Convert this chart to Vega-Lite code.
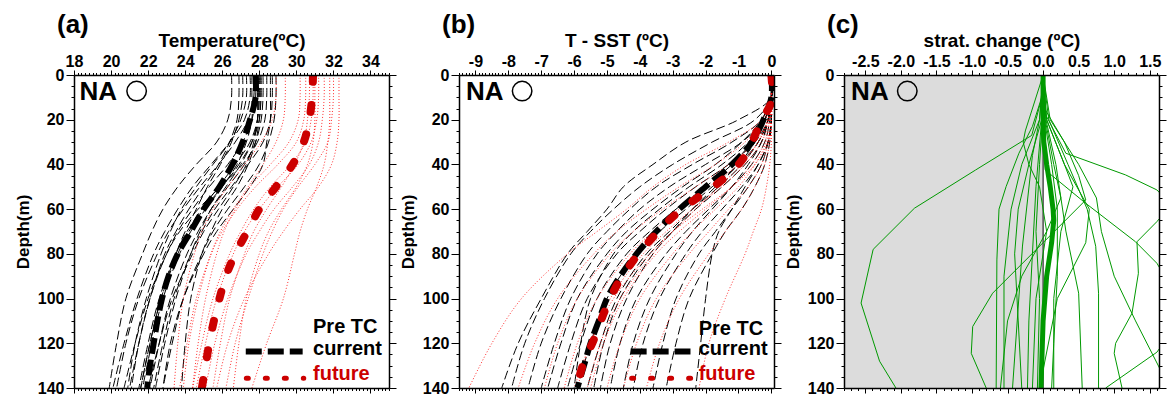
{
"$schema":"https://vega.github.io/schema/vega-lite/v6.json",
"background":"white",
"padding":{"left":14,"top":12,"right":8,"bottom":8},
"config":{
 "font":"Liberation Sans",
 "view":{"stroke":null},
 "axis":{"domain":true,"domainColor":"black","domainWidth":1.5,"grid":false,"tickColor":"black","tickWidth":1,"labelFont":"Liberation Sans","labelFontSize":16,"labelFontWeight":"bold","labelColor":"black","titleFont":"Liberation Sans","titleFontSize":17,"titleFontWeight":"bold","titleColor":"black","labelOverlap":false,"labelFlush":false,"labelBound":false},
 "axisTop":{"titleFontSize":19},
 "text":{"font":"Liberation Sans"},
 "title":{"font":"Liberation Sans","fontSize":26,"fontWeight":"bold","color":"black","anchor":"start","frame":"group","dx":-17,"offset":-7}
},
"datasets":{
"aC":[
{"i":1,"d":0,"v":27.8},{"i":1,"d":10,"v":27.8},{"i":1,"d":20,"v":27.6},{"i":1,"d":30,"v":27.1},{"i":1,"d":40,"v":26.3},{"i":1,"d":50,"v":25.3},{"i":1,"d":60,"v":24.4},{"i":1,"d":70,"v":23.6},{"i":1,"d":80,"v":23.0},{"i":1,"d":100,"v":22.0},{"i":1,"d":120,"v":21.3},{"i":1,"d":140,"v":20.7},
{"i":2,"d":0,"v":28.2},{"i":2,"d":10,"v":28.2},{"i":2,"d":20,"v":28.1},{"i":2,"d":30,"v":27.8},{"i":2,"d":40,"v":27.2},{"i":2,"d":50,"v":26.3},{"i":2,"d":60,"v":25.4},{"i":2,"d":70,"v":24.7},{"i":2,"d":80,"v":24.1},{"i":2,"d":100,"v":23.2},{"i":2,"d":120,"v":22.6},{"i":2,"d":140,"v":22.1},
{"i":3,"d":0,"v":27.5},{"i":3,"d":10,"v":27.5},{"i":3,"d":20,"v":27.2},{"i":3,"d":30,"v":26.4},{"i":3,"d":40,"v":25.4},{"i":3,"d":50,"v":24.4},{"i":3,"d":60,"v":23.6},{"i":3,"d":70,"v":22.9},{"i":3,"d":80,"v":22.3},{"i":3,"d":100,"v":21.4},{"i":3,"d":120,"v":20.7},{"i":3,"d":140,"v":20.1},
{"i":4,"d":0,"v":28.9},{"i":4,"d":10,"v":28.9},{"i":4,"d":20,"v":28.8},{"i":4,"d":30,"v":28.5},{"i":4,"d":40,"v":28.0},{"i":4,"d":50,"v":27.2},{"i":4,"d":60,"v":26.3},{"i":4,"d":70,"v":25.5},{"i":4,"d":80,"v":24.9},{"i":4,"d":100,"v":23.9},{"i":4,"d":120,"v":23.3},{"i":4,"d":140,"v":22.8},
{"i":5,"d":0,"v":26.5},{"i":5,"d":10,"v":26.5},{"i":5,"d":20,"v":26.3},{"i":5,"d":30,"v":25.7},{"i":5,"d":40,"v":24.6},{"i":5,"d":50,"v":23.6},{"i":5,"d":60,"v":22.8},{"i":5,"d":70,"v":22.2},{"i":5,"d":80,"v":21.7},{"i":5,"d":100,"v":20.8},{"i":5,"d":120,"v":20.3},{"i":5,"d":140,"v":19.9},
{"i":6,"d":0,"v":27.9},{"i":6,"d":10,"v":27.9},{"i":6,"d":20,"v":27.9},{"i":6,"d":30,"v":27.6},{"i":6,"d":40,"v":27.0},{"i":6,"d":50,"v":26.2},{"i":6,"d":60,"v":25.4},{"i":6,"d":70,"v":24.8},{"i":6,"d":80,"v":24.3},{"i":6,"d":100,"v":23.5},{"i":6,"d":120,"v":22.9},{"i":6,"d":140,"v":22.4},
{"i":7,"d":0,"v":27.3},{"i":7,"d":10,"v":27.3},{"i":7,"d":20,"v":27.0},{"i":7,"d":30,"v":26.4},{"i":7,"d":40,"v":25.5},{"i":7,"d":50,"v":24.6},{"i":7,"d":60,"v":23.8},{"i":7,"d":70,"v":23.2},{"i":7,"d":80,"v":22.7},{"i":7,"d":100,"v":21.9},{"i":7,"d":120,"v":21.3},{"i":7,"d":140,"v":20.9},
{"i":8,"d":0,"v":28.0},{"i":8,"d":10,"v":28.0},{"i":8,"d":20,"v":27.9},{"i":8,"d":30,"v":27.5},{"i":8,"d":40,"v":26.7},{"i":8,"d":50,"v":25.8},{"i":8,"d":60,"v":24.9},{"i":8,"d":70,"v":24.1},{"i":8,"d":80,"v":23.5},{"i":8,"d":100,"v":22.6},{"i":8,"d":120,"v":22.0},{"i":8,"d":140,"v":21.5},
{"i":9,"d":0,"v":28.6},{"i":9,"d":10,"v":28.6},{"i":9,"d":20,"v":28.6},{"i":9,"d":30,"v":28.4},{"i":9,"d":40,"v":28.2},{"i":9,"d":50,"v":27.5},{"i":9,"d":60,"v":26.6},{"i":9,"d":70,"v":25.7},{"i":9,"d":80,"v":25.0},{"i":9,"d":100,"v":23.9},{"i":9,"d":120,"v":23.2},{"i":9,"d":140,"v":22.8},
{"i":10,"d":0,"v":27.7},{"i":10,"d":10,"v":27.7},{"i":10,"d":20,"v":27.4},{"i":10,"d":30,"v":26.7},{"i":10,"d":40,"v":25.8},{"i":10,"d":50,"v":24.8},{"i":10,"d":60,"v":23.9},{"i":10,"d":70,"v":23.1},{"i":10,"d":80,"v":22.5},{"i":10,"d":100,"v":21.5},{"i":10,"d":120,"v":20.8},{"i":10,"d":140,"v":20.3},
{"i":11,"d":0,"v":28.1},{"i":11,"d":10,"v":28.1},{"i":11,"d":20,"v":28.0},{"i":11,"d":30,"v":27.8},{"i":11,"d":40,"v":27.4},{"i":11,"d":50,"v":26.8},{"i":11,"d":60,"v":26.0},{"i":11,"d":70,"v":25.4},{"i":11,"d":80,"v":24.9},{"i":11,"d":100,"v":24.3},{"i":11,"d":120,"v":24.0},{"i":11,"d":140,"v":23.8},
{"i":12,"d":0,"v":26.9},{"i":12,"d":10,"v":26.9},{"i":12,"d":20,"v":26.8},{"i":12,"d":30,"v":26.4},{"i":12,"d":40,"v":25.8},{"i":12,"d":50,"v":25.0},{"i":12,"d":60,"v":24.2},{"i":12,"d":70,"v":23.5},{"i":12,"d":80,"v":22.9},{"i":12,"d":100,"v":22.1},{"i":12,"d":120,"v":21.5},{"i":12,"d":140,"v":21.0},
{"i":13,"d":0,"v":27.6},{"i":13,"d":10,"v":27.6},{"i":13,"d":20,"v":27.6},{"i":13,"d":30,"v":27.3},{"i":13,"d":40,"v":26.8},{"i":13,"d":50,"v":26.0},{"i":13,"d":60,"v":25.1},{"i":13,"d":70,"v":24.3},{"i":13,"d":80,"v":23.7},{"i":13,"d":100,"v":22.8},{"i":13,"d":120,"v":22.2},{"i":13,"d":140,"v":21.7},
{"i":14,"d":0,"v":28.4},{"i":14,"d":10,"v":28.4},{"i":14,"d":20,"v":28.3},{"i":14,"d":30,"v":27.9},{"i":14,"d":40,"v":27.1},{"i":14,"d":50,"v":25.9},{"i":14,"d":60,"v":24.7},{"i":14,"d":70,"v":23.7},{"i":14,"d":80,"v":23.0},{"i":14,"d":100,"v":22.1},{"i":14,"d":120,"v":21.5},{"i":14,"d":140,"v":21.1},
{"i":15,"d":0,"v":27.1},{"i":15,"d":10,"v":27.1},{"i":15,"d":20,"v":26.9},{"i":15,"d":30,"v":26.5},{"i":15,"d":40,"v":25.9},{"i":15,"d":50,"v":25.2},{"i":15,"d":60,"v":24.6},{"i":15,"d":70,"v":24.0},{"i":15,"d":80,"v":23.5},{"i":15,"d":100,"v":22.7},{"i":15,"d":120,"v":22.1},{"i":15,"d":140,"v":21.6},
{"i":16,"d":0,"v":28.7},{"i":16,"d":10,"v":28.7},{"i":16,"d":20,"v":28.6},{"i":16,"d":30,"v":28.2},{"i":16,"d":40,"v":27.4},{"i":16,"d":50,"v":26.5},{"i":16,"d":60,"v":25.6},{"i":16,"d":70,"v":24.9},{"i":16,"d":80,"v":24.3},{"i":16,"d":100,"v":23.4},{"i":16,"d":120,"v":22.8},{"i":16,"d":140,"v":22.3},
{"i":17,"d":0,"v":27.95},{"i":17,"d":10,"v":27.95},{"i":17,"d":20,"v":27.9},{"i":17,"d":30,"v":27.7},{"i":17,"d":40,"v":27.3},{"i":17,"d":50,"v":26.6},{"i":17,"d":60,"v":25.8},{"i":17,"d":70,"v":25.0},{"i":17,"d":80,"v":24.4},{"i":17,"d":100,"v":23.3},{"i":17,"d":120,"v":22.6},{"i":17,"d":140,"v":22.0},
{"i":18,"d":0,"v":28.05},{"i":18,"d":10,"v":28.05},{"i":18,"d":20,"v":28.0},{"i":18,"d":30,"v":27.6},{"i":18,"d":40,"v":26.9},{"i":18,"d":50,"v":26.0},{"i":18,"d":60,"v":25.0},{"i":18,"d":70,"v":24.2},{"i":18,"d":80,"v":23.6},{"i":18,"d":100,"v":22.7},{"i":18,"d":120,"v":22.1},{"i":18,"d":140,"v":21.6}
],
"aF":[
{"i":1,"d":0,"v":30.9},{"i":1,"d":10,"v":30.9},{"i":1,"d":20,"v":30.8},{"i":1,"d":30,"v":30.5},{"i":1,"d":40,"v":29.7},{"i":1,"d":50,"v":28.6},{"i":1,"d":60,"v":27.7},{"i":1,"d":70,"v":27.0},{"i":1,"d":80,"v":26.4},{"i":1,"d":100,"v":25.5},{"i":1,"d":120,"v":24.9},{"i":1,"d":140,"v":24.4},
{"i":2,"d":0,"v":31.5},{"i":2,"d":10,"v":31.5},{"i":2,"d":20,"v":31.4},{"i":2,"d":30,"v":31.2},{"i":2,"d":40,"v":30.7},{"i":2,"d":50,"v":29.8},{"i":2,"d":60,"v":28.8},{"i":2,"d":70,"v":28.0},{"i":2,"d":80,"v":27.3},{"i":2,"d":100,"v":26.3},{"i":2,"d":120,"v":25.6},{"i":2,"d":140,"v":25.1},
{"i":3,"d":0,"v":32.3},{"i":3,"d":10,"v":32.3},{"i":3,"d":20,"v":32.3},{"i":3,"d":30,"v":32.2},{"i":3,"d":40,"v":31.9},{"i":3,"d":50,"v":31.2},{"i":3,"d":60,"v":30.2},{"i":3,"d":70,"v":29.3},{"i":3,"d":80,"v":28.5},{"i":3,"d":100,"v":27.2},{"i":3,"d":120,"v":26.3},{"i":3,"d":140,"v":25.7},
{"i":4,"d":0,"v":28.9},{"i":4,"d":10,"v":28.9},{"i":4,"d":20,"v":28.7},{"i":4,"d":30,"v":28.1},{"i":4,"d":40,"v":27.2},{"i":4,"d":50,"v":26.3},{"i":4,"d":60,"v":25.5},{"i":4,"d":70,"v":24.9},{"i":4,"d":80,"v":24.5},{"i":4,"d":100,"v":23.9},{"i":4,"d":120,"v":23.6},{"i":4,"d":140,"v":23.4},
{"i":5,"d":0,"v":30.5},{"i":5,"d":10,"v":30.5},{"i":5,"d":20,"v":30.4},{"i":5,"d":30,"v":30.0},{"i":5,"d":40,"v":29.0},{"i":5,"d":50,"v":27.8},{"i":5,"d":60,"v":26.8},{"i":5,"d":70,"v":26.0},{"i":5,"d":80,"v":25.4},{"i":5,"d":100,"v":24.6},{"i":5,"d":120,"v":24.1},{"i":5,"d":140,"v":23.7},
{"i":6,"d":0,"v":31.8},{"i":6,"d":10,"v":31.8},{"i":6,"d":20,"v":31.8},{"i":6,"d":30,"v":31.7},{"i":6,"d":40,"v":31.5},{"i":6,"d":50,"v":31.1},{"i":6,"d":60,"v":30.6},{"i":6,"d":70,"v":30.2},{"i":6,"d":80,"v":29.9},{"i":6,"d":100,"v":29.3},{"i":6,"d":120,"v":28.4},{"i":6,"d":140,"v":27.6},
{"i":7,"d":0,"v":30.2},{"i":7,"d":10,"v":30.2},{"i":7,"d":20,"v":30.1},{"i":7,"d":30,"v":29.6},{"i":7,"d":40,"v":28.6},{"i":7,"d":50,"v":27.5},{"i":7,"d":60,"v":26.7},{"i":7,"d":70,"v":26.1},{"i":7,"d":80,"v":25.7},{"i":7,"d":100,"v":25.1},{"i":7,"d":120,"v":24.7},{"i":7,"d":140,"v":24.4},
{"i":8,"d":0,"v":31.2},{"i":8,"d":10,"v":31.2},{"i":8,"d":20,"v":31.1},{"i":8,"d":30,"v":30.8},{"i":8,"d":40,"v":30.1},{"i":8,"d":50,"v":29.0},{"i":8,"d":60,"v":28.0},{"i":8,"d":70,"v":27.2},{"i":8,"d":80,"v":26.6},{"i":8,"d":100,"v":25.7},{"i":8,"d":120,"v":25.1},{"i":8,"d":140,"v":24.6},
{"i":9,"d":0,"v":29.4},{"i":9,"d":10,"v":29.4},{"i":9,"d":20,"v":29.3},{"i":9,"d":30,"v":28.9},{"i":9,"d":40,"v":28.2},{"i":9,"d":50,"v":27.4},{"i":9,"d":60,"v":26.6},{"i":9,"d":70,"v":25.9},{"i":9,"d":80,"v":25.4},{"i":9,"d":100,"v":24.7},{"i":9,"d":120,"v":24.2},{"i":9,"d":140,"v":23.9},
{"i":10,"d":0,"v":32.0},{"i":10,"d":10,"v":32.0},{"i":10,"d":20,"v":31.9},{"i":10,"d":30,"v":31.7},{"i":10,"d":40,"v":31.0},{"i":10,"d":50,"v":30.1},{"i":10,"d":60,"v":29.3},{"i":10,"d":70,"v":28.7},{"i":10,"d":80,"v":28.2},{"i":10,"d":100,"v":27.4},{"i":10,"d":120,"v":26.7},{"i":10,"d":140,"v":26.2},
{"i":11,"d":0,"v":30.7},{"i":11,"d":10,"v":30.7},{"i":11,"d":20,"v":30.6},{"i":11,"d":30,"v":30.4},{"i":11,"d":40,"v":29.9},{"i":11,"d":50,"v":29.2},{"i":11,"d":60,"v":28.4},{"i":11,"d":70,"v":27.7},{"i":11,"d":80,"v":27.2},{"i":11,"d":100,"v":26.4},{"i":11,"d":120,"v":25.9},{"i":11,"d":140,"v":25.5},
{"i":12,"d":0,"v":31.0},{"i":12,"d":10,"v":31.0},{"i":12,"d":20,"v":31.0},{"i":12,"d":30,"v":30.9},{"i":12,"d":40,"v":30.6},{"i":12,"d":50,"v":30.0},{"i":12,"d":60,"v":29.2},{"i":12,"d":70,"v":28.5},{"i":12,"d":80,"v":28.0},{"i":12,"d":100,"v":27.3},{"i":12,"d":120,"v":26.9},{"i":12,"d":140,"v":26.6}
],
"aM":[
{"d":0,"v":27.8},{"d":10,"v":27.8},{"d":20,"v":27.5},{"d":30,"v":27.1},{"d":40,"v":26.55},{"d":50,"v":25.85},{"d":60,"v":25.0},{"d":70,"v":24.3},{"d":80,"v":23.6},{"d":90,"v":23.1},{"d":100,"v":22.75},{"d":110,"v":22.5},{"d":120,"v":22.3},{"d":130,"v":22.1},{"d":140,"v":21.95}
],
"aN":[
{"d":0,"v":30.9},{"d":10,"v":30.85},{"d":20,"v":30.7},{"d":30,"v":30.4},{"d":40,"v":29.8},{"d":50,"v":28.9},{"d":60,"v":28.0},{"d":70,"v":27.35},{"d":80,"v":26.7},{"d":90,"v":26.2},{"d":100,"v":25.85},{"d":110,"v":25.55},{"d":120,"v":25.3},{"d":130,"v":25.1},{"d":140,"v":24.9}
],
"bC":[
{"i":1,"d":0,"v":0},{"i":1,"d":10,"v":0},{"i":1,"d":20,"v":-1.0},{"i":1,"d":30,"v":-2.6},{"i":1,"d":40,"v":-3.6},{"i":1,"d":50,"v":-4.5},{"i":1,"d":60,"v":-5.0},{"i":1,"d":70,"v":-5.6},{"i":1,"d":80,"v":-6.2},{"i":1,"d":100,"v":-7.0},{"i":1,"d":120,"v":-7.7},{"i":1,"d":140,"v":-8.2},
{"i":2,"d":0,"v":0},{"i":2,"d":10,"v":0},{"i":2,"d":20,"v":-0.5},{"i":2,"d":30,"v":-1.8},{"i":2,"d":40,"v":-3.0},{"i":2,"d":50,"v":-4.0},{"i":2,"d":60,"v":-4.8},{"i":2,"d":70,"v":-5.5},{"i":2,"d":80,"v":-6.1},{"i":2,"d":100,"v":-6.9},{"i":2,"d":120,"v":-7.5},{"i":2,"d":140,"v":-7.9},
{"i":3,"d":0,"v":0},{"i":3,"d":10,"v":0},{"i":3,"d":20,"v":-0.3},{"i":3,"d":30,"v":-1.2},{"i":3,"d":40,"v":-2.4},{"i":3,"d":50,"v":-3.5},{"i":3,"d":60,"v":-4.3},{"i":3,"d":70,"v":-5.0},{"i":3,"d":80,"v":-5.6},{"i":3,"d":100,"v":-6.4},{"i":3,"d":120,"v":-7.0},{"i":3,"d":140,"v":-7.4},
{"i":4,"d":0,"v":0},{"i":4,"d":10,"v":0},{"i":4,"d":20,"v":-0.2},{"i":4,"d":30,"v":-0.9},{"i":4,"d":40,"v":-2.0},{"i":4,"d":50,"v":-3.1},{"i":4,"d":60,"v":-4.0},{"i":4,"d":70,"v":-4.7},{"i":4,"d":80,"v":-5.3},{"i":4,"d":100,"v":-6.1},{"i":4,"d":120,"v":-6.6},{"i":4,"d":140,"v":-7.0},
{"i":5,"d":0,"v":0},{"i":5,"d":10,"v":0},{"i":5,"d":20,"v":-0.3},{"i":5,"d":30,"v":-0.9},{"i":5,"d":40,"v":-1.7},{"i":5,"d":50,"v":-2.7},{"i":5,"d":60,"v":-3.6},{"i":5,"d":70,"v":-4.4},{"i":5,"d":80,"v":-5.0},{"i":5,"d":100,"v":-5.9},{"i":5,"d":120,"v":-6.4},{"i":5,"d":140,"v":-6.8},
{"i":6,"d":0,"v":0},{"i":6,"d":10,"v":0},{"i":6,"d":20,"v":-0.1},{"i":6,"d":30,"v":-0.5},{"i":6,"d":40,"v":-1.3},{"i":6,"d":50,"v":-2.3},{"i":6,"d":60,"v":-3.2},{"i":6,"d":70,"v":-4.0},{"i":6,"d":80,"v":-4.7},{"i":6,"d":100,"v":-5.6},{"i":6,"d":120,"v":-6.1},{"i":6,"d":140,"v":-6.5},
{"i":7,"d":0,"v":0},{"i":7,"d":10,"v":0},{"i":7,"d":20,"v":-0.2},{"i":7,"d":30,"v":-0.6},{"i":7,"d":40,"v":-1.2},{"i":7,"d":50,"v":-2.0},{"i":7,"d":60,"v":-2.9},{"i":7,"d":70,"v":-3.7},{"i":7,"d":80,"v":-4.4},{"i":7,"d":100,"v":-5.3},{"i":7,"d":120,"v":-5.8},{"i":7,"d":140,"v":-6.2},
{"i":8,"d":0,"v":0},{"i":8,"d":10,"v":0},{"i":8,"d":20,"v":-0.1},{"i":8,"d":30,"v":-0.4},{"i":8,"d":40,"v":-1.0},{"i":8,"d":50,"v":-1.8},{"i":8,"d":60,"v":-2.6},{"i":8,"d":70,"v":-3.4},{"i":8,"d":80,"v":-4.1},{"i":8,"d":100,"v":-5.0},{"i":8,"d":120,"v":-5.5},{"i":8,"d":140,"v":-5.9},
{"i":9,"d":0,"v":0},{"i":9,"d":10,"v":0},{"i":9,"d":20,"v":-0.1},{"i":9,"d":30,"v":-0.4},{"i":9,"d":40,"v":-0.9},{"i":9,"d":50,"v":-1.6},{"i":9,"d":60,"v":-2.4},{"i":9,"d":70,"v":-3.1},{"i":9,"d":80,"v":-3.8},{"i":9,"d":100,"v":-4.7},{"i":9,"d":120,"v":-5.2},{"i":9,"d":140,"v":-5.6},
{"i":10,"d":0,"v":0},{"i":10,"d":10,"v":0},{"i":10,"d":20,"v":-0.2},{"i":10,"d":30,"v":-0.5},{"i":10,"d":40,"v":-1.0},{"i":10,"d":50,"v":-1.7},{"i":10,"d":60,"v":-2.4},{"i":10,"d":70,"v":-3.0},{"i":10,"d":80,"v":-3.6},{"i":10,"d":100,"v":-4.4},{"i":10,"d":120,"v":-4.9},{"i":10,"d":140,"v":-5.2},
{"i":11,"d":0,"v":0},{"i":11,"d":10,"v":0},{"i":11,"d":20,"v":-0.05},{"i":11,"d":30,"v":-0.2},{"i":11,"d":40,"v":-0.6},{"i":11,"d":50,"v":-1.2},{"i":11,"d":60,"v":-1.9},{"i":11,"d":70,"v":-2.6},{"i":11,"d":80,"v":-3.2},{"i":11,"d":100,"v":-4.1},{"i":11,"d":120,"v":-4.6},{"i":11,"d":140,"v":-4.9},
{"i":12,"d":0,"v":0},{"i":12,"d":10,"v":0},{"i":12,"d":20,"v":-0.1},{"i":12,"d":30,"v":-0.3},{"i":12,"d":40,"v":-0.7},{"i":12,"d":50,"v":-1.2},{"i":12,"d":60,"v":-1.8},{"i":12,"d":70,"v":-2.4},{"i":12,"d":80,"v":-2.9},{"i":12,"d":100,"v":-3.7},{"i":12,"d":120,"v":-4.2},{"i":12,"d":140,"v":-4.5},
{"i":13,"d":0,"v":0},{"i":13,"d":10,"v":0},{"i":13,"d":20,"v":0},{"i":13,"d":30,"v":-0.1},{"i":13,"d":40,"v":-0.4},{"i":13,"d":50,"v":-0.9},{"i":13,"d":60,"v":-1.5},{"i":13,"d":70,"v":-2.1},{"i":13,"d":80,"v":-2.6},{"i":13,"d":100,"v":-3.4},{"i":13,"d":120,"v":-3.9},{"i":13,"d":140,"v":-4.2},
{"i":14,"d":0,"v":0},{"i":14,"d":10,"v":0},{"i":14,"d":20,"v":0},{"i":14,"d":30,"v":-0.1},{"i":14,"d":40,"v":-0.3},{"i":14,"d":50,"v":-0.7},{"i":14,"d":60,"v":-1.2},{"i":14,"d":70,"v":-1.7},{"i":14,"d":80,"v":-2.2},{"i":14,"d":100,"v":-2.9},{"i":14,"d":120,"v":-3.3},{"i":14,"d":140,"v":-3.6},
{"i":15,"d":0,"v":0},{"i":15,"d":10,"v":0},{"i":15,"d":20,"v":0},{"i":15,"d":30,"v":-0.05},{"i":15,"d":40,"v":-0.2},{"i":15,"d":50,"v":-0.5},{"i":15,"d":60,"v":-0.9},{"i":15,"d":70,"v":-1.4},{"i":15,"d":80,"v":-1.8},{"i":15,"d":100,"v":-2.5},{"i":15,"d":120,"v":-2.9},{"i":15,"d":140,"v":-3.2},
{"i":16,"d":0,"v":0},{"i":16,"d":10,"v":0},{"i":16,"d":20,"v":0},{"i":16,"d":30,"v":-0.1},{"i":16,"d":40,"v":-0.4},{"i":16,"d":50,"v":-0.8},{"i":16,"d":60,"v":-1.2},{"i":16,"d":70,"v":-1.6},{"i":16,"d":80,"v":-1.8},{"i":16,"d":100,"v":-2.0},{"i":16,"d":120,"v":-2.15},{"i":16,"d":140,"v":-2.3},
{"i":17,"d":0,"v":0},{"i":17,"d":10,"v":0},{"i":17,"d":20,"v":-0.2},{"i":17,"d":30,"v":-0.7},{"i":17,"d":40,"v":-1.5},{"i":17,"d":50,"v":-2.5},{"i":17,"d":60,"v":-3.4},{"i":17,"d":70,"v":-4.2},{"i":17,"d":80,"v":-4.8},{"i":17,"d":100,"v":-5.5},{"i":17,"d":120,"v":-5.8},{"i":17,"d":140,"v":-6.0},
{"i":18,"d":0,"v":0},{"i":18,"d":10,"v":0},{"i":18,"d":20,"v":-0.1},{"i":18,"d":30,"v":-0.3},{"i":18,"d":40,"v":-0.8},{"i":18,"d":50,"v":-1.5},{"i":18,"d":60,"v":-2.3},{"i":18,"d":70,"v":-3.0},{"i":18,"d":80,"v":-3.7},{"i":18,"d":100,"v":-4.6},{"i":18,"d":120,"v":-5.1},{"i":18,"d":140,"v":-5.4}
],
"bF":[
{"i":1,"d":0,"v":0},{"i":1,"d":10,"v":0},{"i":1,"d":20,"v":-0.3},{"i":1,"d":30,"v":-1.3},{"i":1,"d":40,"v":-2.6},{"i":1,"d":50,"v":-3.6},{"i":1,"d":60,"v":-4.4},{"i":1,"d":70,"v":-5.3},{"i":1,"d":80,"v":-6.2},{"i":1,"d":100,"v":-7.6},{"i":1,"d":120,"v":-8.5},{"i":1,"d":140,"v":-9.2},
{"i":2,"d":0,"v":0},{"i":2,"d":10,"v":0},{"i":2,"d":20,"v":-0.2},{"i":2,"d":30,"v":-0.8},{"i":2,"d":40,"v":-1.7},{"i":2,"d":50,"v":-2.8},{"i":2,"d":60,"v":-3.8},{"i":2,"d":70,"v":-4.7},{"i":2,"d":80,"v":-5.4},{"i":2,"d":100,"v":-6.5},{"i":2,"d":120,"v":-7.2},{"i":2,"d":140,"v":-7.7},
{"i":3,"d":0,"v":0},{"i":3,"d":10,"v":0},{"i":3,"d":20,"v":-0.1},{"i":3,"d":30,"v":-0.5},{"i":3,"d":40,"v":-1.3},{"i":3,"d":50,"v":-2.3},{"i":3,"d":60,"v":-3.3},{"i":3,"d":70,"v":-4.2},{"i":3,"d":80,"v":-4.9},{"i":3,"d":100,"v":-5.9},{"i":3,"d":120,"v":-6.5},{"i":3,"d":140,"v":-6.9},
{"i":4,"d":0,"v":0},{"i":4,"d":10,"v":0},{"i":4,"d":20,"v":-0.1},{"i":4,"d":30,"v":-0.4},{"i":4,"d":40,"v":-1.0},{"i":4,"d":50,"v":-1.9},{"i":4,"d":60,"v":-2.8},{"i":4,"d":70,"v":-3.6},{"i":4,"d":80,"v":-4.3},{"i":4,"d":100,"v":-5.3},{"i":4,"d":120,"v":-5.9},{"i":4,"d":140,"v":-6.3},
{"i":5,"d":0,"v":0},{"i":5,"d":10,"v":0},{"i":5,"d":20,"v":-0.05},{"i":5,"d":30,"v":-0.3},{"i":5,"d":40,"v":-0.8},{"i":5,"d":50,"v":-1.5},{"i":5,"d":60,"v":-2.4},{"i":5,"d":70,"v":-3.2},{"i":5,"d":80,"v":-3.9},{"i":5,"d":100,"v":-4.9},{"i":5,"d":120,"v":-5.5},{"i":5,"d":140,"v":-5.9},
{"i":6,"d":0,"v":0},{"i":6,"d":10,"v":0},{"i":6,"d":20,"v":-0.05},{"i":6,"d":30,"v":-0.2},{"i":6,"d":40,"v":-0.6},{"i":6,"d":50,"v":-1.2},{"i":6,"d":60,"v":-2.0},{"i":6,"d":70,"v":-2.8},{"i":6,"d":80,"v":-3.5},{"i":6,"d":100,"v":-4.5},{"i":6,"d":120,"v":-5.1},{"i":6,"d":140,"v":-5.5},
{"i":7,"d":0,"v":0},{"i":7,"d":10,"v":0},{"i":7,"d":20,"v":0},{"i":7,"d":30,"v":-0.15},{"i":7,"d":40,"v":-0.5},{"i":7,"d":50,"v":-1.0},{"i":7,"d":60,"v":-1.7},{"i":7,"d":70,"v":-2.4},{"i":7,"d":80,"v":-3.0},{"i":7,"d":100,"v":-4.0},{"i":7,"d":120,"v":-4.6},{"i":7,"d":140,"v":-5.0},
{"i":8,"d":0,"v":0},{"i":8,"d":10,"v":0},{"i":8,"d":20,"v":0},{"i":8,"d":30,"v":-0.1},{"i":8,"d":40,"v":-0.3},{"i":8,"d":50,"v":-0.7},{"i":8,"d":60,"v":-1.3},{"i":8,"d":70,"v":-1.9},{"i":8,"d":80,"v":-2.5},{"i":8,"d":100,"v":-3.5},{"i":8,"d":120,"v":-4.1},{"i":8,"d":140,"v":-4.5},
{"i":9,"d":0,"v":0},{"i":9,"d":10,"v":0},{"i":9,"d":20,"v":0},{"i":9,"d":30,"v":-0.05},{"i":9,"d":40,"v":-0.2},{"i":9,"d":50,"v":-0.5},{"i":9,"d":60,"v":-0.9},{"i":9,"d":70,"v":-1.4},{"i":9,"d":80,"v":-1.9},{"i":9,"d":100,"v":-2.8},{"i":9,"d":120,"v":-3.4},{"i":9,"d":140,"v":-3.8},
{"i":10,"d":0,"v":0},{"i":10,"d":10,"v":0},{"i":10,"d":20,"v":0},{"i":10,"d":30,"v":0},{"i":10,"d":40,"v":-0.05},{"i":10,"d":50,"v":-0.15},{"i":10,"d":60,"v":-0.3},{"i":10,"d":70,"v":-0.55},{"i":10,"d":80,"v":-0.8},{"i":10,"d":100,"v":-1.4},{"i":10,"d":120,"v":-1.9},{"i":10,"d":140,"v":-2.2},
{"i":11,"d":0,"v":0},{"i":11,"d":10,"v":0},{"i":11,"d":20,"v":0},{"i":11,"d":30,"v":-0.1},{"i":11,"d":40,"v":-0.5},{"i":11,"d":50,"v":-1.2},{"i":11,"d":60,"v":-2.1},{"i":11,"d":70,"v":-3.0},{"i":11,"d":80,"v":-3.7},{"i":11,"d":100,"v":-4.8},{"i":11,"d":120,"v":-5.5},{"i":11,"d":140,"v":-6.0},
{"i":12,"d":0,"v":0},{"i":12,"d":10,"v":0},{"i":12,"d":20,"v":-0.1},{"i":12,"d":30,"v":-0.4},{"i":12,"d":40,"v":-0.9},{"i":12,"d":50,"v":-1.6},{"i":12,"d":60,"v":-2.3},{"i":12,"d":70,"v":-3.0},{"i":12,"d":80,"v":-3.6},{"i":12,"d":100,"v":-4.6},{"i":12,"d":120,"v":-5.2},{"i":12,"d":140,"v":-5.6}
],
"bM":[
{"d":0,"v":0},{"d":10,"v":0},{"d":20,"v":-0.24},{"d":30,"v":-0.59},{"d":40,"v":-1.2},{"d":50,"v":-2.0},{"d":60,"v":-2.8},{"d":70,"v":-3.5},{"d":80,"v":-4.1},{"d":90,"v":-4.6},{"d":100,"v":-5.0},{"d":110,"v":-5.25},{"d":120,"v":-5.5},{"d":130,"v":-5.7},{"d":140,"v":-5.9}
],
"bN":[
{"d":0,"v":0},{"d":12,"v":0},{"d":20,"v":-0.29},{"d":37,"v":-0.84},{"d":47,"v":-1.5},{"d":55,"v":-2.26},{"d":63,"v":-2.96},{"d":72.5,"v":-3.6},{"d":83,"v":-4.2},{"d":94,"v":-4.7},{"d":106,"v":-5.08},{"d":118,"v":-5.39},{"d":130,"v":-5.74},{"d":140,"v":-5.92}
],
"cG":[
{"i":1,"d":0,"v":0},{"i":1,"d":8,"v":0},{"i":1,"d":27,"v":-0.16},{"i":1,"d":42.5,"v":-0.95},{"i":1,"d":59.6,"v":-1.81},{"i":1,"d":78,"v":-2.39},{"i":1,"d":102,"v":-2.56},{"i":1,"d":128,"v":-2.3},{"i":1,"d":140,"v":-2.07},
{"i":2,"d":0,"v":0},{"i":2,"d":15.6,"v":0},{"i":2,"d":35,"v":0.32},{"i":2,"d":44.7,"v":1.16},{"i":2,"d":51.4,"v":1.6},{"i":2,"d":58,"v":1.8},{"i":2,"d":65.6,"v":1.6},{"i":2,"d":74.6,"v":1.32},{"i":2,"d":88.7,"v":1.34},{"i":2,"d":106.6,"v":1.25},{"i":2,"d":120,"v":1.02},{"i":2,"d":124.5,"v":1.0},{"i":2,"d":140,"v":1.11},
{"i":3,"d":0,"v":0},{"i":3,"d":20,"v":0},{"i":3,"d":42.5,"v":0.03},{"i":3,"d":57.4,"v":0.6},{"i":3,"d":74.6,"v":1.3},{"i":3,"d":84.2,"v":1.6},{"i":3,"d":100,"v":1.9},{"i":3,"d":115,"v":1.8},{"i":3,"d":124,"v":1.6},{"i":3,"d":140,"v":0.88},
{"i":4,"d":0,"v":0},{"i":4,"d":10,"v":-0.02},{"i":4,"d":23,"v":-0.15},{"i":4,"d":35,"v":-0.34},{"i":4,"d":49.9,"v":-0.52},{"i":4,"d":60,"v":-0.62},{"i":4,"d":82.7,"v":-0.65},{"i":4,"d":140,"v":-0.66},
{"i":5,"d":0,"v":0},{"i":5,"d":20,"v":-0.05},{"i":5,"d":36,"v":-0.15},{"i":5,"d":76.5,"v":-0.29},{"i":5,"d":140,"v":-0.43},
{"i":6,"d":0,"v":0},{"i":6,"d":15,"v":0.02},{"i":6,"d":30,"v":0.3},{"i":6,"d":45,"v":0.5},{"i":6,"d":55.9,"v":0.6},{"i":6,"d":75,"v":0.0},{"i":6,"d":97.6,"v":-0.71},{"i":6,"d":112.5,"v":-0.99},{"i":6,"d":124.5,"v":-1.01},{"i":6,"d":140,"v":-0.8},
{"i":7,"d":0,"v":0},{"i":7,"d":20,"v":0.03},{"i":7,"d":40,"v":0.15},{"i":7,"d":55,"v":0.25},{"i":7,"d":70,"v":0.05},{"i":7,"d":90,"v":-0.3},{"i":7,"d":110,"v":-0.5},{"i":7,"d":140,"v":-0.6},
{"i":8,"d":0,"v":0},{"i":8,"d":20,"v":0.04},{"i":8,"d":40,"v":0.18},{"i":8,"d":69.8,"v":0.32},{"i":8,"d":97.6,"v":0.5},{"i":8,"d":140,"v":0.55},
{"i":9,"d":0,"v":0},{"i":9,"d":20,"v":0.08},{"i":9,"d":40,"v":0.35},{"i":9,"d":60,"v":0.62},{"i":9,"d":76.6,"v":0.74},{"i":9,"d":97.6,"v":0.78},{"i":9,"d":140,"v":0.78},
{"i":10,"d":0,"v":0},{"i":10,"d":20,"v":0.1},{"i":10,"d":40,"v":0.5},{"i":10,"d":55,"v":0.75},{"i":10,"d":70,"v":0.82},{"i":10,"d":90,"v":1.0},{"i":10,"d":110,"v":1.3},{"i":10,"d":135,"v":1.7},
{"i":11,"d":0,"v":0},{"i":11,"d":20,"v":-0.02},{"i":11,"d":50,"v":-0.1},{"i":11,"d":80,"v":-0.15},{"i":11,"d":110,"v":-0.2},{"i":11,"d":140,"v":-0.22},
{"i":12,"d":0,"v":0},{"i":12,"d":20,"v":0.02},{"i":12,"d":40,"v":0.12},{"i":12,"d":60,"v":0.2},{"i":12,"d":90,"v":0.2},{"i":12,"d":120,"v":0.15},{"i":12,"d":140,"v":0.12},
{"i":13,"d":0,"v":0},{"i":13,"d":20,"v":-0.05},{"i":13,"d":40,"v":-0.3},{"i":13,"d":60,"v":-0.45},{"i":13,"d":90,"v":-0.55},{"i":13,"d":140,"v":-0.55},
{"i":14,"d":0,"v":0},{"i":14,"d":20,"v":0.05},{"i":14,"d":40,"v":0.3},{"i":14,"d":50,"v":0.42},{"i":14,"d":70,"v":0.25},{"i":14,"d":100,"v":0.15},{"i":14,"d":140,"v":0.15},
{"i":15,"d":0,"v":0},{"i":15,"d":20,"v":0.05},{"i":15,"d":40,"v":0.3},{"i":15,"d":60,"v":0.65},{"i":15,"d":75,"v":0.6},{"i":15,"d":100,"v":0.2},{"i":15,"d":140,"v":-0.05},
{"i":16,"d":0,"v":0},{"i":16,"d":20,"v":-0.02},{"i":16,"d":40,"v":-0.2},{"i":16,"d":60,"v":-0.35},{"i":16,"d":80,"v":-0.4},{"i":16,"d":110,"v":-0.35},{"i":16,"d":140,"v":-0.3},
{"i":17,"d":0,"v":0},{"i":17,"d":20,"v":-0.01},{"i":17,"d":40,"v":-0.05},{"i":17,"d":70,"v":-0.1},{"i":17,"d":100,"v":-0.05},{"i":17,"d":140,"v":-0.08},
{"i":18,"d":0,"v":0},{"i":18,"d":25,"v":-0.25},{"i":18,"d":30,"v":-0.28},{"i":18,"d":40,"v":-0.2},{"i":18,"d":50,"v":-0.05},{"i":18,"d":70,"v":0.05},{"i":18,"d":100,"v":-0.1},{"i":18,"d":140,"v":-0.15}
],
"cM":[
{"d":0,"v":0},{"d":20,"v":0},{"d":30,"v":0.01},{"d":40,"v":0.05},{"d":50,"v":0.1},{"d":60,"v":0.14},{"d":65,"v":0.15},{"d":75,"v":0.12},{"d":90,"v":0.05},{"d":110,"v":0.0},{"d":140,"v":-0.03}
]
},
"spacing":70,
"bounds":"flush",
"hconcat":[
{
 "width":315,"height":313,
 "title":{"text":"(a)"},
 "resolve":{"axis":{"x":"independent","y":"independent"}},
 "layer":[
  {"data":{"name":"aC"},"mark":{"type":"line","color":"black","strokeWidth":1,"strokeDash":[9,4],"interpolate":"catmull-rom","clip":true},
   "encoding":{"x":{"field":"v","type":"quantitative","scale":{"domain":[18,35],"nice":false,"zero":false},"axis":{"orient":"top","title":"Temperature(ºC)","tickCount":85,"labelExpr":"abs(datum.value/2-round(datum.value/2))<0.01 ? ''+round(datum.value) : ''","tickSize":{"condition":{"test":"abs(datum.value/2-round(datum.value/2))<0.01","value":5},"value":2.5},"labelPadding":1,"titlePadding":3,"zindex":1}},
    "y":{"field":"d","type":"quantitative","scale":{"domain":[0,140],"nice":false,"zero":false,"reverse":true},"axis":{"orient":"left","title":"Depth(m)","tickCount":28,"labelExpr":"datum.value % 20 === 0 ? ''+datum.value : ''","tickSize":{"condition":{"test":"datum.value % 20 === 0","value":8},"value":3},"labelPadding":2,"titlePadding":5,"zindex":1}},
    "detail":{"field":"i","type":"nominal"},"order":{"field":"d","type":"quantitative"}}},
  {"data":{"name":"aF"},"mark":{"type":"line","color":"#ff1a1a","strokeWidth":0.9,"strokeDash":[1,2],"interpolate":"catmull-rom","clip":true},
   "encoding":{"x":{"field":"v","type":"quantitative","scale":{"domain":[18,35],"nice":false,"zero":false},"axis":{"orient":"bottom","title":null,"labels":false,"tickCount":85,"tickSize":{"condition":{"test":"abs(datum.value/2-round(datum.value/2))<0.01","value":5},"value":2.5},"zindex":1}},
    "y":{"field":"d","type":"quantitative","scale":{"domain":[0,140],"nice":false,"zero":false,"reverse":true},"axis":{"orient":"right","title":null,"labels":false,"tickCount":28,"tickSize":{"condition":{"test":"datum.value % 20 === 0","value":7},"value":3},"zindex":1}},
    "detail":{"field":"i","type":"nominal"},"order":{"field":"d","type":"quantitative"}}},
  {"data":{"name":"aM"},"mark":{"type":"line","color":"black","strokeWidth":6,"strokeDash":[16,6],"interpolate":"catmull-rom","clip":true},
   "encoding":{"x":{"field":"v","type":"quantitative","scale":{"domain":[18,35],"nice":false,"zero":false},"axis":null},"y":{"field":"d","type":"quantitative","scale":{"domain":[0,140],"nice":false,"zero":false,"reverse":true},"axis":null},"order":{"field":"d","type":"quantitative"}}},
  {"data":{"name":"aN"},"mark":{"type":"line","color":"#cc0000","strokeWidth":8,"strokeDash":[7,23],"strokeCap":"round","interpolate":"catmull-rom","clip":true},
   "encoding":{"x":{"field":"v","type":"quantitative","scale":{"domain":[18,35],"nice":false,"zero":false},"axis":null},"y":{"field":"d","type":"quantitative","scale":{"domain":[0,140],"nice":false,"zero":false,"reverse":true},"axis":null},"order":{"field":"d","type":"quantitative"}}},
  {"data":{"values":[{}]},"mark":{"type":"text","text":"NA","fontSize":26,"fontWeight":"bold","align":"left","baseline":"alphabetic","color":"black"},
   "encoding":{"x":{"datum":18.3,"type":"quantitative","scale":{"domain":[18,35],"nice":false,"zero":false},"axis":null},"y":{"datum":11.3,"type":"quantitative","scale":{"domain":[0,140],"nice":false,"zero":false,"reverse":true},"axis":null}}},
  {"data":{"values":[{}]},"mark":{"type":"point","shape":"circle","size":380,"filled":false,"stroke":"black","strokeWidth":1.5,"opacity":1},
   "encoding":{"x":{"datum":21.38,"type":"quantitative","scale":{"domain":[18,35],"nice":false,"zero":false},"axis":null},"y":{"datum":7.2,"type":"quantitative","scale":{"domain":[0,140],"nice":false,"zero":false,"reverse":true},"axis":null}}},
  {"data":{"values":[{}]},"mark":{"type":"text","text":"Pre TC","fontSize":20,"fontWeight":"bold","align":"left","baseline":"alphabetic","color":"black"},
   "encoding":{"x":{"datum":30.9,"type":"quantitative","scale":{"domain":[18,35],"nice":false,"zero":false},"axis":null},"y":{"datum":115.5,"type":"quantitative","scale":{"domain":[0,140],"nice":false,"zero":false,"reverse":true},"axis":null}}},
  {"data":{"values":[{}]},"mark":{"type":"text","text":"current","fontSize":20,"fontWeight":"bold","align":"left","baseline":"alphabetic","color":"black"},
   "encoding":{"x":{"datum":30.9,"type":"quantitative","scale":{"domain":[18,35],"nice":false,"zero":false},"axis":null},"y":{"datum":125.2,"type":"quantitative","scale":{"domain":[0,140],"nice":false,"zero":false,"reverse":true},"axis":null}}},
  {"data":{"values":[{}]},"mark":{"type":"text","text":"future","fontSize":20,"fontWeight":"bold","align":"left","baseline":"alphabetic","color":"#cc0000"},
   "encoding":{"x":{"datum":30.9,"type":"quantitative","scale":{"domain":[18,35],"nice":false,"zero":false},"axis":null},"y":{"datum":136.4,"type":"quantitative","scale":{"domain":[0,140],"nice":false,"zero":false,"reverse":true},"axis":null}}},
  {"data":{"values":[{"v":27.27,"d":123.7},{"v":30.34,"d":123.7}]},"mark":{"type":"line","color":"black","strokeWidth":6,"strokeDash":[16,6]},
   "encoding":{"x":{"field":"v","type":"quantitative","scale":{"domain":[18,35],"nice":false,"zero":false},"axis":null},"y":{"field":"d","type":"quantitative","scale":{"domain":[0,140],"nice":false,"zero":false,"reverse":true},"axis":null}}},
  {"data":{"values":[{"v":27.3,"d":135.6},{"v":30.4,"d":135.6}]},"mark":{"type":"line","color":"#cc0000","strokeWidth":5,"strokeDash":[2,17],"strokeCap":"round"},
   "encoding":{"x":{"field":"v","type":"quantitative","scale":{"domain":[18,35],"nice":false,"zero":false},"axis":null},"y":{"field":"d","type":"quantitative","scale":{"domain":[0,140],"nice":false,"zero":false,"reverse":true},"axis":null}}}
 ]
},
{
 "width":315,"height":313,
 "title":{"text":"(b)"},
 "resolve":{"axis":{"x":"independent","y":"independent"}},
 "layer":[
  {"data":{"name":"bC"},"mark":{"type":"line","color":"black","strokeWidth":1,"strokeDash":[9,4],"interpolate":"catmull-rom","clip":true},
   "encoding":{"x":{"field":"v","type":"quantitative","scale":{"domain":[-9.5,0.08],"nice":false,"zero":false},"axis":{"orient":"top","title":"T - SST (ºC)","tickCount":96,"labelExpr":"abs(datum.value-round(datum.value))<0.01 ? ''+round(datum.value) : ''","tickSize":{"condition":{"test":"abs(datum.value-round(datum.value))<0.01","value":5},"value":2.5},"labelPadding":1,"titlePadding":3,"zindex":1}},
    "y":{"field":"d","type":"quantitative","scale":{"domain":[0,140],"nice":false,"zero":false,"reverse":true},"axis":{"orient":"left","title":"Depth(m)","tickCount":28,"labelExpr":"datum.value % 20 === 0 ? ''+datum.value : ''","tickSize":{"condition":{"test":"datum.value % 20 === 0","value":8},"value":3},"labelPadding":2,"titlePadding":5,"zindex":1}},
    "detail":{"field":"i","type":"nominal"},"order":{"field":"d","type":"quantitative"}}},
  {"data":{"name":"bF"},"mark":{"type":"line","color":"#ff1a1a","strokeWidth":0.9,"strokeDash":[1,2],"interpolate":"catmull-rom","clip":true},
   "encoding":{"x":{"field":"v","type":"quantitative","scale":{"domain":[-9.5,0.08],"nice":false,"zero":false},"axis":{"orient":"bottom","title":null,"labels":false,"tickCount":96,"tickSize":{"condition":{"test":"abs(datum.value-round(datum.value))<0.01","value":5},"value":2.5},"zindex":1}},
    "y":{"field":"d","type":"quantitative","scale":{"domain":[0,140],"nice":false,"zero":false,"reverse":true},"axis":{"orient":"right","title":null,"labels":false,"tickCount":28,"tickSize":{"condition":{"test":"datum.value % 20 === 0","value":7},"value":3},"zindex":1}},
    "detail":{"field":"i","type":"nominal"},"order":{"field":"d","type":"quantitative"}}},
  {"data":{"name":"bM"},"mark":{"type":"line","color":"black","strokeWidth":6,"strokeDash":[16,6],"interpolate":"catmull-rom","clip":true},
   "encoding":{"x":{"field":"v","type":"quantitative","scale":{"domain":[-9.5,0.08],"nice":false,"zero":false},"axis":null},"y":{"field":"d","type":"quantitative","scale":{"domain":[0,140],"nice":false,"zero":false,"reverse":true},"axis":null},"order":{"field":"d","type":"quantitative"}}},
  {"data":{"name":"bN"},"mark":{"type":"line","color":"#cc0000","strokeWidth":8,"strokeDash":[7,23],"strokeCap":"round","interpolate":"catmull-rom","clip":true},
   "encoding":{"x":{"field":"v","type":"quantitative","scale":{"domain":[-9.5,0.08],"nice":false,"zero":false},"axis":null},"y":{"field":"d","type":"quantitative","scale":{"domain":[0,140],"nice":false,"zero":false,"reverse":true},"axis":null},"order":{"field":"d","type":"quantitative"}}},
  {"data":{"values":[{}]},"mark":{"type":"text","text":"NA","fontSize":26,"fontWeight":"bold","align":"left","baseline":"alphabetic","color":"black"},
   "encoding":{"x":{"datum":-9.29,"type":"quantitative","scale":{"domain":[-9.5,0.08],"nice":false,"zero":false},"axis":null},"y":{"datum":11.3,"type":"quantitative","scale":{"domain":[0,140],"nice":false,"zero":false,"reverse":true},"axis":null}}},
  {"data":{"values":[{}]},"mark":{"type":"point","shape":"circle","size":380,"filled":false,"stroke":"black","strokeWidth":1.5,"opacity":1},
   "encoding":{"x":{"datum":-7.58,"type":"quantitative","scale":{"domain":[-9.5,0.08],"nice":false,"zero":false},"axis":null},"y":{"datum":7.2,"type":"quantitative","scale":{"domain":[0,140],"nice":false,"zero":false,"reverse":true},"axis":null}}},
  {"data":{"values":[{}]},"mark":{"type":"text","text":"Pre TC","fontSize":20,"fontWeight":"bold","align":"left","baseline":"alphabetic","color":"black"},
   "encoding":{"x":{"datum":-2.21,"type":"quantitative","scale":{"domain":[-9.5,0.08],"nice":false,"zero":false},"axis":null},"y":{"datum":116.3,"type":"quantitative","scale":{"domain":[0,140],"nice":false,"zero":false,"reverse":true},"axis":null}}},
  {"data":{"values":[{}]},"mark":{"type":"text","text":"current","fontSize":20,"fontWeight":"bold","align":"left","baseline":"alphabetic","color":"black"},
   "encoding":{"x":{"datum":-2.21,"type":"quantitative","scale":{"domain":[-9.5,0.08],"nice":false,"zero":false},"axis":null},"y":{"datum":125.2,"type":"quantitative","scale":{"domain":[0,140],"nice":false,"zero":false,"reverse":true},"axis":null}}},
  {"data":{"values":[{}]},"mark":{"type":"text","text":"future","fontSize":20,"fontWeight":"bold","align":"left","baseline":"alphabetic","color":"#cc0000"},
   "encoding":{"x":{"datum":-2.21,"type":"quantitative","scale":{"domain":[-9.5,0.08],"nice":false,"zero":false},"axis":null},"y":{"datum":136.4,"type":"quantitative","scale":{"domain":[0,140],"nice":false,"zero":false,"reverse":true},"axis":null}}},
  {"data":{"values":[{"v":-4.28,"d":123.7},{"v":-2.46,"d":123.7}]},"mark":{"type":"line","color":"black","strokeWidth":6,"strokeDash":[16,6]},
   "encoding":{"x":{"field":"v","type":"quantitative","scale":{"domain":[-9.5,0.08],"nice":false,"zero":false},"axis":null},"y":{"field":"d","type":"quantitative","scale":{"domain":[0,140],"nice":false,"zero":false,"reverse":true},"axis":null}}},
  {"data":{"values":[{"v":-4.25,"d":135.6},{"v":-2.4,"d":135.6}]},"mark":{"type":"line","color":"#cc0000","strokeWidth":5,"strokeDash":[2,17],"strokeCap":"round"},
   "encoding":{"x":{"field":"v","type":"quantitative","scale":{"domain":[-9.5,0.08],"nice":false,"zero":false},"axis":null},"y":{"field":"d","type":"quantitative","scale":{"domain":[0,140],"nice":false,"zero":false,"reverse":true},"axis":null}}}
 ]
},
{
 "width":315,"height":313,
 "title":{"text":"(c)"},
 "resolve":{"axis":{"x":"independent","y":"independent"}},
 "layer":[
  {"data":{"values":[{}]},"mark":{"type":"rect","color":"#dcdcdc","clip":true},
   "encoding":{"x":{"datum":-2.8,"type":"quantitative","scale":{"domain":[-2.8,1.63],"nice":false,"zero":false},"axis":null},"x2":{"datum":0},"y":{"datum":0,"type":"quantitative","scale":{"domain":[0,140],"nice":false,"zero":false,"reverse":true},"axis":null},"y2":{"datum":140}}},
  {"data":{"values":[{}]},"mark":{"type":"rule","color":"black","strokeWidth":1},
   "encoding":{"x":{"datum":0,"type":"quantitative","scale":{"domain":[-2.8,1.63],"nice":false,"zero":false},"axis":null}}},
  {"data":{"name":"cG"},"mark":{"type":"line","color":"#009900","strokeWidth":1,"clip":true},
   "encoding":{"x":{"field":"v","type":"quantitative","scale":{"domain":[-2.8,1.63],"nice":false,"zero":false},"axis":{"orient":"top","title":"strat. change (ºC)","tickCount":44,"labelExpr":"abs(datum.value*2-round(datum.value*2))<0.01 ? replace(format(datum.value,'.1f'),'\u2212','-') : ''","tickSize":{"condition":{"test":"abs(datum.value*2-round(datum.value*2))<0.01","value":5},"value":2.5},"labelPadding":1,"titlePadding":3,"zindex":1}},
    "y":{"field":"d","type":"quantitative","scale":{"domain":[0,140],"nice":false,"zero":false,"reverse":true},"axis":{"orient":"left","title":"Depth(m)","tickCount":28,"labelExpr":"datum.value % 20 === 0 ? ''+datum.value : ''","tickSize":{"condition":{"test":"datum.value % 20 === 0","value":8},"value":3},"labelPadding":2,"titlePadding":5,"zindex":1}},
    "detail":{"field":"i","type":"nominal"},"order":{"field":"d","type":"quantitative"}}},
  {"data":{"name":"cM"},"mark":{"type":"line","color":"#009900","strokeWidth":5,"clip":true},
   "encoding":{"x":{"field":"v","type":"quantitative","scale":{"domain":[-2.8,1.63],"nice":false,"zero":false},"axis":{"orient":"bottom","title":null,"labels":false,"tickCount":44,"tickSize":{"condition":{"test":"abs(datum.value*2-round(datum.value*2))<0.01","value":5},"value":2.5},"zindex":1}},
    "y":{"field":"d","type":"quantitative","scale":{"domain":[0,140],"nice":false,"zero":false,"reverse":true},"axis":{"orient":"right","title":null,"labels":false,"tickCount":28,"tickSize":{"condition":{"test":"datum.value % 20 === 0","value":7},"value":3},"zindex":1}},
    "order":{"field":"d","type":"quantitative"}}},
  {"data":{"values":[{}]},"mark":{"type":"text","text":"NA","fontSize":26,"fontWeight":"bold","align":"left","baseline":"alphabetic","color":"black"},
   "encoding":{"x":{"datum":-2.7,"type":"quantitative","scale":{"domain":[-2.8,1.63],"nice":false,"zero":false},"axis":null},"y":{"datum":11.3,"type":"quantitative","scale":{"domain":[0,140],"nice":false,"zero":false,"reverse":true},"axis":null}}},
  {"data":{"values":[{}]},"mark":{"type":"point","shape":"circle","size":380,"filled":false,"stroke":"black","strokeWidth":1.5,"opacity":1},
   "encoding":{"x":{"datum":-1.91,"type":"quantitative","scale":{"domain":[-2.8,1.63],"nice":false,"zero":false},"axis":null},"y":{"datum":7.2,"type":"quantitative","scale":{"domain":[0,140],"nice":false,"zero":false,"reverse":true},"axis":null}}}
 ]
}
]
}
